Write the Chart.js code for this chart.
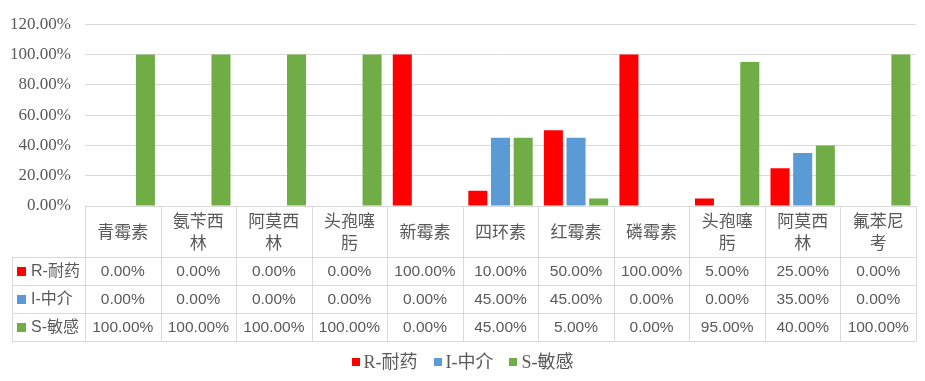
<!DOCTYPE html>
<html>
<head>
<meta charset="utf-8">
<script src="https://cdn.jsdelivr.net/npm/chart.js@4/dist/chart.umd.min.js"></script>
<style>
html,body{margin:0;padding:0;background:#fff;}
canvas{display:block;}
</style>
</head>
<body>
<canvas id="c" width="925" height="381"></canvas>
<script>
// ---- data ----
const categories = ["青霉素","氨苄西林","阿莫西林","头孢噻肟","新霉素","四环素","红霉素","磷霉素","头孢噻肟","阿莫西林","氟苯尼考"];
const seriesNames = ["R-耐药","I-中介","S-敏感"];
const seriesR = [0,0,0,0,100,10,50,100,5,25,0];
const seriesI = [0,0,0,0,0,45,45,0,0,35,0];
const seriesS = [100,100,100,100,0,45,5,0,95,40,100];
const yTicks = [0,20,40,60,80,100,120];

const colors = ["#FF0000","#5B9BD5","#70AD47"];
const textColor = "#595959";
const lineColor = "#D9D9D9";
const allSeries = [seriesR, seriesI, seriesS];

const fmt = v => v.toFixed(2) + "%";

const tablePlugin = {
  id: "dataTable",
  afterDraw(chart) {
    const ctx = chart.ctx;
    const x = chart.scales.x;
    const area = chart.chartArea;
    const colW = x.getPixelForValue(1) - x.getPixelForValue(0);
    const top = area.bottom;
    const headerH = 51, rowH = 28;
    const tableLeft = 12;
    const rowsTop = top + headerH;
    const bottom = rowsTop + rowH * 3;
    ctx.save();
    ctx.strokeStyle = lineColor;
    ctx.lineWidth = 1;
    const hline = (y, x0, x1) => { ctx.beginPath(); ctx.moveTo(x0, Math.round(y)+0.5); ctx.lineTo(x1, Math.round(y)+0.5); ctx.stroke(); };
    const vline = (xx, y0, y1) => { ctx.beginPath(); ctx.moveTo(Math.round(xx)+0.5, y0); ctx.lineTo(Math.round(xx)+0.5, y1); ctx.stroke(); };
    hline(top, area.left, area.right);
    for (let r = 0; r <= 3; r++) hline(rowsTop + r * rowH, tableLeft, area.right);
    vline(tableLeft, rowsTop, bottom + 0.5);
    for (let i = 0; i <= categories.length; i++) {
      const bx = area.left + i * colW;
      vline(bx, top, bottom + 0.5);
    }
    // header labels
    ctx.fillStyle = textColor;
    ctx.textAlign = "center";
    ctx.textBaseline = "middle";
    ctx.font = '17px "Noto Sans CJK SC", "Liberation Sans", sans-serif';
    categories.forEach((c, i) => {
      const cx = x.getPixelForValue(i);
      let lines = [c];
      if (ctx.measureText(c).width > colW - 10) {
        lines = [c.slice(0, 3), c.slice(3)];
      }
      if (lines.length === 1) {
        ctx.fillText(lines[0], cx, top + 26);
      } else {
        ctx.fillText(lines[0], cx, top + 14.5);
        ctx.fillText(lines[1], cx, top + 36.5);
      }
    });
    // rows
    seriesNames.forEach((name, r) => {
      const cy = rowsTop + r * rowH + rowH / 2;
      ctx.fillStyle = colors[r];
      ctx.fillRect(17, Math.round(cy) - 4, 9, 9);
      ctx.fillStyle = textColor;
      ctx.textAlign = "left";
      ctx.font = '16px "Liberation Sans", "Noto Sans CJK SC", sans-serif';
      ctx.fillText(name, 31, cy + 1);
      ctx.textAlign = "center";
      ctx.font = '15.5px "Liberation Sans", sans-serif';
      allSeries[r].forEach((v, i) => {
        ctx.fillText(fmt(v), x.getPixelForValue(i), cy + 1);
      });
    });
    // legend
    ctx.font = '18px "Liberation Serif", "Noto Sans CJK SC", serif';
    const box = 8, gapBox = 4, gapItem = 16;
    const widths = seriesNames.map(n => box + gapBox + ctx.measureText(n).width);
    const total = widths.reduce((a, b) => a + b, 0) + gapItem * (seriesNames.length - 1);
    let lx = chart.width / 2 - total / 2;
    const ly = 362;
    ctx.textAlign = "left";
    seriesNames.forEach((n, r) => {
      ctx.fillStyle = colors[r];
      ctx.fillRect(Math.round(lx), ly - 4, box, box);
      ctx.fillStyle = textColor;
      ctx.fillText(n, lx + box + gapBox, ly + 1);
      lx += widths[r] + gapItem;
    });
    ctx.restore();
  }
};

new Chart(document.getElementById("c"), {
  type: "bar",
  data: {
    labels: categories,
    datasets: seriesNames.map((n, k) => ({
      label: n,
      data: allSeries[k],
      backgroundColor: colors[k],
      borderWidth: 0,
      categoryPercentage: 0.9,
      barPercentage: 0.84
    }))
  },
  options: {
    responsive: false,
    animation: false,
    devicePixelRatio: 1,
    layout: { padding: { left: 0, right: 9, top: 24, bottom: 175 } },
    plugins: { legend: { display: false }, tooltip: { enabled: false } },
    scales: {
      x: { display: false, offset: true },
      y: {
        min: 0, max: 120,
        afterBuildTicks: s => { s.ticks = yTicks.map(v => ({ value: v })); },
        afterFit: s => { s.width = 85; },
        border: { display: false },
        grid: { color: lineColor, drawTicks: false, lineWidth: 1 },
        ticks: {
          padding: 14,
          color: textColor,
          font: { family: '"Liberation Serif", serif', size: 17 },
          callback: v => fmt(v)
        }
      }
    }
  },
  plugins: [tablePlugin]
});
</script>
</body>
</html>
